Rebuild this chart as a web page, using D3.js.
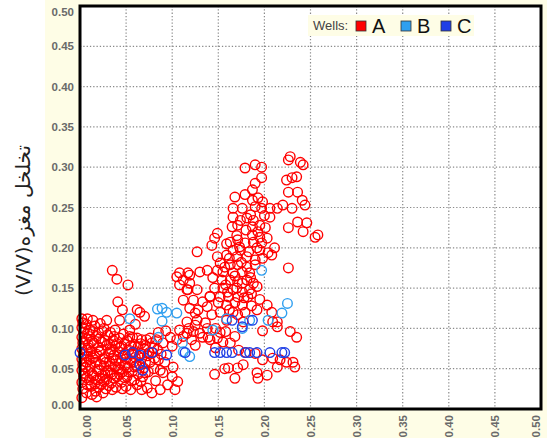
<!DOCTYPE html>
<html>
<head>
<meta charset="utf-8">
<script src="https://cdn.jsdelivr.net/npm/d3@7"></script>
<style>
html,body{margin:0;padding:0;background:#fff;}
svg{display:block;}
</style>
</head>
<body>
<svg id="chart" width="547" height="438"></svg>
<script>
// ---- data ----
const xTicks = [0, 0.05, 0.10, 0.15, 0.20, 0.25, 0.30, 0.35, 0.40, 0.45, 0.50];
const yTicks = [0, 0.05, 0.10, 0.15, 0.20, 0.25, 0.30, 0.35, 0.40, 0.45, 0.50];
const tickLabels = ["0.00","0.05","0.10","0.15","0.20","0.25","0.30","0.35","0.40","0.45","0.50"];
const wells = ["A", "B", "C"];
const wellColors = ["#ff0000", "#2f9ff0", "#1f3fe6"];
const yTitle = "تخلخل مغزه(V/V)";

// Well A (x, y)
const wellA = [
 [0.002,0.014],[0.003,0.025],[0.002,0.033],[0.004,0.041],[0.002,0.048],[0.003,0.055],[0.002,0.062],[0.004,0.068],
 [0.002,0.075],[0.003,0.082],[0.002,0.089],[0.004,0.095],[0.002,0.101],[0.003,0.107],[0.002,0.112],
 [0.007,0.020],[0.008,0.030],[0.007,0.039],[0.009,0.047],[0.007,0.058],[0.008,0.066],[0.007,0.073],[0.009,0.080],
 [0.007,0.087],[0.008,0.094],[0.007,0.105],
 [0.012,0.028],[0.013,0.044],[0.011,0.053],[0.014,0.063],[0.012,0.071],[0.013,0.084],[0.011,0.098],[0.014,0.110],
 [0.017,0.022],[0.018,0.036],[0.019,0.049],[0.017,0.058],[0.018,0.068],[0.020,0.077],[0.018,0.090],[0.016,0.103],
 [0.023,0.030],[0.024,0.042],[0.022,0.055],[0.025,0.062],[0.023,0.073],[0.024,0.083],
 [0.028,0.025],[0.029,0.037],[0.030,0.047],[0.028,0.058],[0.031,0.068],[0.029,0.079],[0.030,0.092],
 [0.034,0.032],[0.035,0.043],[0.033,0.053],[0.036,0.063],[0.034,0.074],[0.036,0.085],
 [0.039,0.027],[0.040,0.040],[0.041,0.050],[0.039,0.060],[0.042,0.071],[0.040,0.081],
 [0.045,0.033],[0.046,0.046],[0.044,0.057],[0.047,0.066],[0.045,0.078],
 [0.050,0.028],[0.051,0.040],[0.052,0.052],[0.050,0.062],[0.053,0.073],[0.051,0.085],
 [0.056,0.035],[0.057,0.047],[0.058,0.058],[0.056,0.068],[0.059,0.080],
 [0.062,0.030],[0.063,0.043],[0.061,0.054],[0.064,0.065],[0.063,0.077],
 [0.068,0.040],[0.069,0.051],[0.067,0.063],[0.070,0.074],[0.072,0.086],
 [0.074,0.046],[0.076,0.058],[0.075,0.070],[0.078,0.082],
 [0.005,0.044],[0.010,0.036],[0.015,0.041],[0.021,0.048],[0.026,0.053],[0.032,0.059],[0.037,0.067],[0.043,0.076],
 [0.048,0.081],[0.054,0.090],[0.006,0.052],[0.010,0.061],[0.016,0.065],[0.021,0.071],[0.027,0.064],[0.033,0.071],
 [0.038,0.078],[0.044,0.063],[0.049,0.069],[0.055,0.078],[0.009,0.076],[0.015,0.082],[0.021,0.087],[0.027,0.085],
 [0.032,0.081],[0.037,0.090],[0.043,0.088],[0.047,0.093],[0.010,0.090],[0.005,0.099],[0.014,0.096],[0.024,0.097],
 [0.033,0.095],[0.022,0.106],[0.008,0.112],[0.013,0.018],[0.020,0.027],[0.026,0.034],[0.031,0.029],[0.037,0.038],
 [0.043,0.043],[0.048,0.039],[0.053,0.046],[0.059,0.052],[0.064,0.056],[0.016,0.031],[0.022,0.038],[0.027,0.044],
 [0.033,0.045],[0.038,0.052],[0.044,0.049],[0.049,0.054],[0.055,0.060],[0.060,0.064],[0.066,0.069],[0.071,0.058],
 [0.073,0.066],[0.079,0.070],[0.081,0.063],[0.084,0.074],[0.088,0.068],[0.071,0.079],[0.066,0.081],[0.062,0.088],
 [0.058,0.071],[0.035,0.024],[0.046,0.025],[0.055,0.024],[0.059,0.036],[0.066,0.034],[0.071,0.045],[0.080,0.050],
 [0.018,0.015],[0.025,0.020],
 [0.020,0.095],[0.026,0.100],[0.029,0.110],[0.038,0.098],[0.043,0.110],[0.054,0.098],[0.046,0.123],[0.062,0.123],
 [0.041,0.133],[0.035,0.172],[0.040,0.161],[0.052,0.154],[0.065,0.120],[0.070,0.115],[0.060,0.105],
 [0.057,0.089],[0.067,0.086],[0.076,0.088],[0.083,0.086],[0.090,0.082],[0.098,0.089],[0.105,0.086],[0.085,0.095],
 [0.093,0.097],[0.100,0.078],[0.080,0.076],
 [0.085,0.061],[0.087,0.048],[0.101,0.052],[0.100,0.040],[0.067,0.024],[0.073,0.026],[0.078,0.020],[0.087,0.024],
 [0.103,0.024],[0.082,0.035],[0.092,0.058],
 [0.116,0.108],[0.127,0.110],[0.143,0.117],[0.136,0.107],[0.159,0.110],[0.116,0.094],[0.123,0.096],[0.130,0.094],
 [0.139,0.089],[0.149,0.088],[0.155,0.083],[0.163,0.082],[0.121,0.086],[0.125,0.079],[0.133,0.089],[0.141,0.086],
 [0.118,0.100],[0.108,0.098],[0.112,0.090],[0.147,0.100],[0.152,0.095],[0.168,0.090],
 [0.105,0.164],[0.112,0.160],[0.119,0.166],[0.108,0.154],[0.127,0.148],[0.117,0.148],[0.108,0.169],[0.117,0.169],
 [0.119,0.156],[0.112,0.135],[0.123,0.135],[0.133,0.133],[0.141,0.140],[0.127,0.195],[0.143,0.203],[0.149,0.218],
 [0.146,0.212],[0.159,0.205],
 [0.228,0.313],[0.239,0.306],[0.242,0.303],[0.226,0.309],[0.179,0.299],[0.190,0.303],[0.197,0.300],[0.235,0.288],
 [0.224,0.284],[0.230,0.287],[0.197,0.287],[0.190,0.280],[0.187,0.272],[0.226,0.269],[0.236,0.269],[0.241,0.259],
 [0.244,0.253],[0.220,0.253],[0.230,0.249],[0.179,0.266],[0.168,0.263],[0.187,0.259],[0.193,0.262],[0.198,0.257],
 [0.166,0.249],[0.176,0.249],[0.190,0.251],[0.197,0.249],[0.206,0.249],[0.214,0.249],[0.206,0.238],[0.166,0.238],
 [0.174,0.234],[0.181,0.237],[0.188,0.234],[0.165,0.226],[0.171,0.228],[0.187,0.226],[0.195,0.228],[0.201,0.225],
 [0.226,0.225],[0.236,0.232],[0.246,0.231],[0.242,0.220],[0.255,0.213],[0.258,0.216],[0.187,0.216],[0.195,0.213],
 [0.203,0.212],[0.163,0.207],[0.171,0.210],[0.179,0.206],[0.188,0.207],[0.197,0.206],[0.211,0.200],[0.204,0.194],
 [0.195,0.197],[0.166,0.197],[0.174,0.197],[0.149,0.189],[0.159,0.191],[0.170,0.189],[0.181,0.189],[0.190,0.185],
 [0.198,0.187],[0.208,0.191],[0.226,0.175],[0.152,0.181],[0.163,0.179],[0.171,0.179],[0.181,0.176],[0.190,0.179],
 [0.138,0.172],[0.130,0.170],[0.149,0.172],[0.155,0.170],[0.166,0.169],[0.176,0.170],[0.184,0.169],
 [0.144,0.163],[0.154,0.160],[0.163,0.160],[0.171,0.158],[0.181,0.160],[0.188,0.156],
 [0.116,0.148],[0.146,0.150],[0.155,0.150],[0.166,0.148],[0.176,0.145],[0.184,0.148],
 [0.141,0.139],[0.152,0.139],[0.161,0.139],[0.171,0.139],[0.182,0.139],
 [0.150,0.132],[0.159,0.129],[0.168,0.132],[0.176,0.129],[0.203,0.129],
 [0.119,0.125],[0.128,0.123],[0.138,0.127],[0.152,0.120],[0.166,0.120],[0.179,0.120],[0.192,0.123],[0.125,0.119],
 [0.158,0.154],[0.168,0.165],[0.176,0.156],[0.185,0.163],[0.160,0.145],[0.170,0.150],[0.178,0.138],[0.186,0.143],
 [0.192,0.152],[0.175,0.182],[0.183,0.195],[0.192,0.200],[0.170,0.215],[0.180,0.222],[0.193,0.220],[0.157,0.176],
 [0.162,0.187],[0.173,0.201],[0.185,0.241],[0.200,0.240],[0.162,0.123],[0.171,0.117],[0.186,0.128],[0.195,0.136],
 [0.158,0.096],[0.147,0.076],[0.138,0.100],[0.125,0.104],[0.198,0.097],[0.208,0.120],
 [0.177,0.108],[0.214,0.108],[0.209,0.108],[0.214,0.102],[0.228,0.096],[0.235,0.089],
 [0.190,0.069],[0.198,0.061],[0.209,0.063],[0.217,0.061],[0.224,0.058],[0.231,0.058],[0.233,0.052],[0.214,0.052],
 [0.161,0.051],[0.171,0.051],[0.177,0.055],[0.168,0.038],[0.192,0.045],[0.193,0.038],[0.203,0.042],
 [0.090,0.045],[0.106,0.034],[0.095,0.030],[0.146,0.043],[0.157,0.050],[0.172,0.073],[0.180,0.070]
];

// Well B (x, y)
const wellB = [
 [0.054,0.112],[0.084,0.124],[0.094,0.120],[0.105,0.119],[0.089,0.109],[0.085,0.089],[0.111,0.082],[0.119,0.065],
 [0.112,0.071],[0.144,0.098],[0.159,0.112],[0.176,0.100],[0.197,0.172],[0.225,0.131],[0.219,0.119],[0.204,0.110],
 [0.184,0.110],[0.089,0.125]
];

// Well C (x, y)
const wellC = [
 [0.000,0.070],[0.049,0.067],[0.057,0.070],[0.065,0.067],[0.078,0.070],[0.094,0.067],[0.065,0.055],[0.068,0.048],
 [0.114,0.070],[0.146,0.070],[0.152,0.070],[0.159,0.070],[0.165,0.070],[0.179,0.070],[0.184,0.070],[0.192,0.070],
 [0.206,0.070],[0.219,0.070],[0.222,0.070],[0.165,0.110],[0.176,0.102],[0.187,0.110]
];

// ---- drawing ----
const svg = d3.select("#chart");
const W = 547, H = 438;
const x = d3.scaleLinear().domain([0, 0.5]).range([80, 541]);
const y = d3.scaleLinear().domain([0, 0.5]).range([409, 6]);
const fmt = (d) => tickLabels[xTicks.indexOf(d)];

// cream background
svg.append("rect").attr("x", 45).attr("y", 0).attr("width", W - 45).attr("height", H).attr("fill", "#fefde6");
// plot area
svg.append("rect").attr("x", x(0)).attr("y", y(0.5)).attr("width", x(0.5) - x(0)).attr("height", y(0) - y(0.5)).attr("fill", "#ffffff");

// grid
const grid = svg.append("g").attr("stroke", "#8a8a8a").attr("stroke-width", 1.2).attr("stroke-dasharray", "1.3,2");
grid.selectAll("line.v").data(xTicks.slice(1, -1)).join("line").attr("class", "v")
  .attr("x1", d => x(d)).attr("x2", d => x(d)).attr("y1", y(0.5)).attr("y2", y(0));
grid.selectAll("line.h").data(yTicks.slice(1, -1)).join("line").attr("class", "h")
  .attr("y1", d => y(d)).attr("y2", d => y(d)).attr("x1", x(0)).attr("x2", x(0.5));

// points
const series = [wellA, wellB, wellC];
series.forEach((pts, i) => {
  svg.append("g").selectAll("circle").data(pts).join("circle")
    .attr("cx", d => x(d[0])).attr("cy", d => y(d[1])).attr("r", 4.8)
    .attr("fill", "none").attr("stroke", wellColors[i]).attr("stroke-width", 1.4);
});

// border
svg.append("rect").attr("x", x(0)).attr("y", y(0.5)).attr("width", x(0.5) - x(0)).attr("height", y(0) - y(0.5))
  .attr("fill", "none").attr("stroke", "#000").attr("stroke-width", 3);

// y axis labels
const yAxis = d3.axisLeft(y).tickValues(yTicks).tickSize(0).tickPadding(5).tickFormat(fmt);
const gy = svg.append("g").attr("transform", `translate(${x(0) - 1},0)`).call(yAxis);
gy.select(".domain").remove();
gy.selectAll("text").attr("font-family", "Liberation Sans, Arial, sans-serif").attr("font-size", 11.5)
  .attr("font-weight", "bold").attr("fill", "#6a6a6a")
  .attr("dy", d => d === 0 ? "-0.05em" : (d === 0.5 ? "0.85em" : "0.32em"));

// x axis labels (rotated)
const xAxis = d3.axisBottom(x).tickValues(xTicks).tickSize(0).tickPadding(0).tickFormat(fmt);
const gx = svg.append("g").attr("transform", `translate(0,${y(0)})`).call(xAxis);
gx.select(".domain").remove();
gx.selectAll("text").attr("font-family", "Liberation Sans, Arial, sans-serif").attr("font-size", 11.5)
  .attr("font-weight", "bold").attr("fill", "#6a6a6a")
  .attr("text-anchor", "end").attr("y", 0).attr("dy", null)
  .attr("transform", d => `translate(${d === 0 ? 6 : (d === 0.5 ? -6 : 0)},6) rotate(-90) translate(0,4)`);

// y title
svg.append("text").attr("transform", `translate(23,${(y(0) + y(0.5)) / 2 + 13}) rotate(-90)`)
  .attr("text-anchor", "middle").attr("direction", "rtl").attr("dy", "0.35em")
  .attr("font-family", "DejaVu Sans, sans-serif").attr("font-size", 20).attr("fill", "#222")
  .text(yTitle);

// legend
const lg = svg.append("g").attr("transform", "translate(308,15)");
lg.append("rect").attr("width", 166).attr("height", 21).attr("fill", "#fefde6");
lg.append("text").attr("x", 5).attr("y", 15).attr("font-family", "Liberation Sans, Arial, sans-serif")
  .attr("font-size", 13).attr("fill", "#444").text("Wells:");
const lx = [48, 93, 133];
wells.forEach((w, i) => {
  lg.append("rect").attr("x", lx[i]).attr("y", 6).attr("width", 10).attr("height", 10)
    .attr("fill", wellColors[i]).attr("stroke", "#333").attr("stroke-width", 0.8);
  lg.append("text").attr("x", lx[i] + 16).attr("y", 18).attr("font-family", "Liberation Sans, Arial, sans-serif")
    .attr("font-size", 20).attr("fill", "#111").text(w);
});
</script>
</body>
</html>
